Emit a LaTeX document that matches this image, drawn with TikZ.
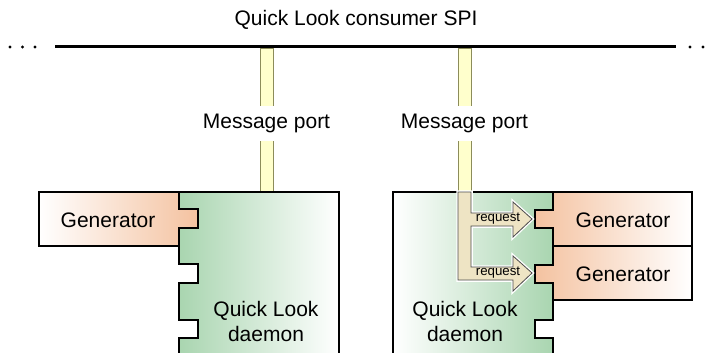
\documentclass[tikz,border=0pt]{standalone}
\usepackage{fontspec}
\setmainfont{Liberation Sans}
\usetikzlibrary{positioning}
\definecolor{gengreen}{HTML}{A9D5B0}
\definecolor{genorange}{HTML}{F4C2A0}
\definecolor{portyellow}{HTML}{FFFFCC}
\definecolor{portline}{HTML}{8C8C5A}
\definecolor{reqbeige}{HTML}{EEE4C4}
\tikzset{label-text/.style =
   {text centered,
    inner sep=0pt,
    font=\fontsize{21}{25}\selectfont}}
\tikzset{port-label/.style =
   {label-text,
    fill=white,
    minimum height=35pt,
    inner xsep=4pt}}
\tikzset{request-text/.style =
   {text centered,
    inner sep=0pt,
    font=\fontsize{13.3}{14}\selectfont}}
\tikzset{outline/.style = {draw, line width=1.1pt}}
\tikzset{pipe/.style = {draw=portline, fill=portyellow, line width=1pt}}

\begin{document}
\begin{tikzpicture}[x=1pt, y=-1pt]
    \useasboundingbox (0,0) rectangle (712,353);

    % consumer SPI bus
    \node [label-text] (spi) at (356,20) {Quick Look consumer SPI};
    \coordinate (bus-left) at (55,47);
    \coordinate (bus-right) at (676,47);
    \draw [line width=3pt] (bus-left) -- (bus-right);
    \foreach \x in {10,22.5,35,690,703,716}
        \fill (\x,47) circle (1.6pt);

    % message ports
    \filldraw [pipe] (260,49) rectangle (273,192);
    \filldraw [pipe] (458,49) rectangle (471,192);
    \node [port-label] (port0) at (266.5,123) {Message port};
    \node [port-label] (port1) at (464.5,123) {Message port};

    % left daemon with one generator
    \shade [outline, left color=gengreen, right color=white]
        (179,356) -- (179,338) -- (198,338) -- (198,320) -- (179,320)
        -- (179,283) -- (198,283) -- (198,264) -- (179,264)
        -- (179,228) -- (198,228) -- (198,209) -- (179,209)
        -- (179,192) -- (339,192) -- (339,356);
    \shade [outline, left color=white, right color=genorange]
        (39,192) -- (179,192) -- (179,209) -- (198,209) -- (198,228)
        -- (179,228) -- (179,246) -- (39,246) -- cycle;
    \node [label-text] (gen0) at (108,220) {Generator};
    \node [label-text, align=center] (daemon0) at (266,321)
        {Quick Look\\daemon};

    % right daemon with two generators
    \shade [outline, left color=white, right color=gengreen]
        (393,356) -- (393,192) -- (553,192)
        -- (553,210) -- (535,210) -- (535,228) -- (553,228)
        -- (553,265) -- (535,265) -- (535,283) -- (553,283)
        -- (553,320) -- (535,320) -- (535,338) -- (553,338)
        -- (553,356);
    \shade [outline, left color=genorange, right color=white]
        (692,192) -- (553,192) -- (553,210) -- (535,210) -- (535,228)
        -- (553,228) -- (553,246) -- (692,246) -- cycle;
    \shade [outline, left color=genorange, right color=white]
        (692,246) -- (553,246) -- (553,265) -- (535,265) -- (535,283)
        -- (553,283) -- (553,300) -- (692,300) -- cycle;
    \node [label-text] (gen1) at (623,220) {Generator};
    \node [label-text] (gen2) at (623,274) {Generator};
    \node [label-text, align=center] (daemon1) at (465,321)
        {Quick Look\\daemon};

    % requests from the port to the generators
    \def\requestpath{(458,192) -- (471,192) -- (471,213) -- (513,213)
        -- (513,202) -- (532,219) -- (513,237) -- (513,226) -- (471,226)
        -- (471,267) -- (513,267) -- (513,256) -- (532,273) -- (513,291)
        -- (513,280) -- (458,280) -- cycle}
    \draw [white, line width=3.5pt, line join=miter] \requestpath;
    \filldraw [fill=reqbeige, draw=black!70, line width=0.8pt] \requestpath;
    \node [request-text] (req1) at (498,219) {request};
    \node [request-text] (req2) at (498,273) {request};

\end{tikzpicture}
\end{document}
